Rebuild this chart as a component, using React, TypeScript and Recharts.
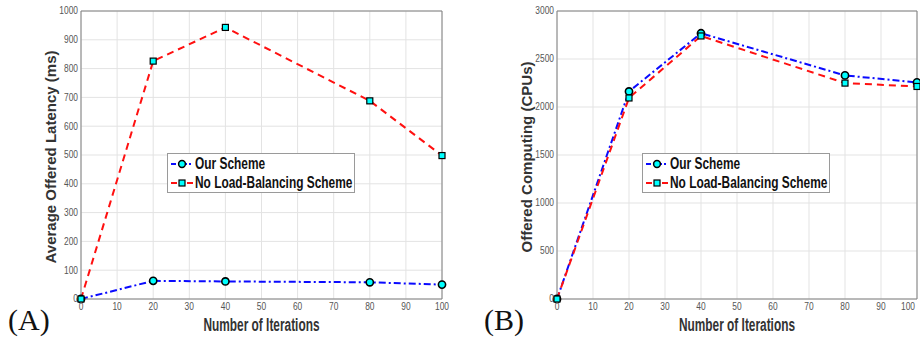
import React from 'react';
import {
  LineChart,
  Line,
  XAxis,
  YAxis,
  CartesianGrid,
  ReferenceLine,
} from 'recharts';

// iterations on the x axis
const iterations = [0, 20, 40, 80, 100];
const xTicks = [0, 10, 20, 30, 40, 50, 60, 70, 80, 90, 100];

// (A) average offered latency (ms)
const latencyOurs = [0, 63, 61, 58, 50];
const latencyNoLB = [0, 826, 943, 688, 498];
const latencyTicks = [0, 100, 200, 300, 400, 500, 600, 700, 800, 900, 1000];

// (B) offered computing (CPUs)
const computingOurs = [0, 2162, 2768, 2329, 2256];
const computingNoLB = [0, 2094, 2740, 2249, 2214];
const computingTicks = [0, 500, 1000, 1500, 2000, 2500, 3000];

const seriesNames = ['Our Scheme', 'No Load-Balancing Scheme'];

const BLUE = '#0a0aff';
const RED = '#ff1010';
const CYAN = '#00ffff';
const FRAME = '#808080';
const SANS = '"Liberation Sans", Arial, sans-serif';

const buildRows = (ours: number[], noLB: number[]) =>
  iterations.map((it, i) => ({ it, ours: ours[i], noLB: noLB[i] }));

const CircleDot = (props: any) => {
  const { cx, cy, index } = props;
  if (cx == null || cy == null) return <g key={index} />;
  return <circle key={index} cx={cx} cy={cy} r={3.6} fill={CYAN} stroke="#000" strokeWidth={1.6} />;
};

const SquareDot = (props: any) => {
  const { cx, cy, index } = props;
  if (cx == null || cy == null) return <g key={index} />;
  return (
    <rect key={index} x={cx - 3} y={cy - 3} width={6} height={6} fill={CYAN} stroke="#000" strokeWidth={1.2} />
  );
};

// squeezed tick text, the original uses a narrow face
const NarrowTick = (props: any) => {
  const { x, y, payload, textAnchor, orientation } = props;
  const dy = orientation === 'bottom' ? 9 : 3.5;
  return (
    <text
      x={x}
      y={y + dy}
      textAnchor={textAnchor}
      fontFamily={SANS}
      fontSize={10.5}
      fill="#555"
      transform={`translate(${x},0) scale(0.8,1) translate(${-x},0)`}
    >
      {payload.value}
    </text>
  );
};

const legendText: React.CSSProperties = {
  display: 'inline-block',
  transform: 'scaleX(0.7)',
  transformOrigin: 'left center',
};

const LegendBox = ({ left }: { left: number }) => (
  <div
    style={{
      position: 'absolute',
      left,
      top: 153,
      width: 186,
      height: 38,
      background: '#fff',
      border: '1px solid #9a9a9a',
      fontFamily: SANS,
      fontWeight: 'bold',
      fontSize: 17,
      color: '#111',
      lineHeight: '19px',
      whiteSpace: 'nowrap',
    }}
  >
    <div style={{ display: 'flex', alignItems: 'center', paddingLeft: 2 }}>
      <svg width={24} height={12} style={{ marginRight: 1, flex: 'none' }}>
        <line x1={1} y1={6} x2={23} y2={6} stroke={BLUE} strokeWidth={2} strokeDasharray="5 2 2 2" />
        <circle cx={12} cy={6} r={3.4} fill={CYAN} stroke="#000" strokeWidth={1.5} />
      </svg>
      <span style={legendText}>{seriesNames[0]}</span>
    </div>
    <div style={{ display: 'flex', alignItems: 'center', paddingLeft: 2 }}>
      <svg width={24} height={12} style={{ marginRight: 1, flex: 'none' }}>
        <line x1={1} y1={6} x2={23} y2={6} stroke={RED} strokeWidth={2} strokeDasharray="6 10" />
        <rect x={9} y={3} width={6} height={6} fill={CYAN} stroke="#000" strokeWidth={1.2} />
      </svg>
      <span style={legendText}>{seriesNames[1]}</span>
    </div>
  </div>
);

interface PanelProps {
  rows: { it: number; ours: number; noLB: number }[];
  yTicks: number[];
  yMax: number;
  yLabel: string;
  yLabelLength: number;
  yAxisWidth: number;
  marginRight: number;
}

function Panel({ rows, yTicks, yMax, yLabel, yLabelLength, yAxisWidth, marginRight }: PanelProps) {
  return (
    <LineChart
      width={460}
      height={341}
      data={rows}
      margin={{ top: 11, right: marginRight, bottom: 0, left: 0 }}
    >
      <CartesianGrid stroke="#e3e3e3" strokeWidth={1} />
      <XAxis
        dataKey="it"
        type="number"
        domain={[0, 100]}
        ticks={xTicks}
        height={42}
        tickLine={false}
        tickSize={0}
        tickMargin={2}
        axisLine={{ stroke: FRAME }}
        tick={<NarrowTick />}
        label={{
          content: ({ viewBox }: any) => (
            <text
              x={viewBox.x + viewBox.width / 2}
              y={viewBox.y + 32}
              textAnchor="middle"
              fontFamily={SANS}
              fontWeight="bold"
              fontSize={17.5}
              fill="#333"
              textLength={116}
              lengthAdjust="spacingAndGlyphs"
            >
              Number of Iterations
            </text>
          ),
        }}
      />
      <YAxis
        type="number"
        domain={[0, yMax]}
        ticks={yTicks}
        width={yAxisWidth}
        tickLine={false}
        tickSize={0}
        tickMargin={3}
        axisLine={{ stroke: FRAME }}
        tick={<NarrowTick />}
        label={{
          content: ({ viewBox }: any) => {
            const cx = yAxisWidth - 25;
            const cy = viewBox.y + viewBox.height / 2 + 2;
            return (
              <text
                x={cx}
                y={cy}
                transform={`rotate(-90, ${cx}, ${cy})`}
                textAnchor="middle"
                fontFamily={SANS}
                fontWeight="bold"
                fontSize={15}
                fill="#333"
                textLength={yLabelLength}
                lengthAdjust="spacingAndGlyphs"
              >
                {yLabel}
              </text>
            );
          },
        }}
      />
      <ReferenceLine y={yMax} stroke={FRAME} strokeWidth={1} />
      <ReferenceLine x={100} stroke={FRAME} strokeWidth={1} />
      <Line
        dataKey="ours"
        name={seriesNames[0]}
        stroke={BLUE}
        strokeWidth={2}
        strokeDasharray="7 3 2 3"
        dot={CircleDot}
        isAnimationActive={false}
      />
      <Line
        dataKey="noLB"
        name={seriesNames[1]}
        stroke={RED}
        strokeWidth={2}
        strokeDasharray="7 5"
        dot={SquareDot}
        isAnimationActive={false}
      />
    </LineChart>
  );
}

export default function App() {
  return (
    <div style={{ position: 'absolute', left: 0, top: 0, width: 920, height: 341, overflow: 'hidden', background: '#fff' }}>
      <div style={{ position: 'absolute', left: 0, top: 0 }}>
        <Panel
          rows={buildRows(latencyOurs, latencyNoLB)}
          yTicks={latencyTicks}
          yMax={1000}
          yLabel="Average Offered Latency (ms)"
          yLabelLength={213}
          yAxisWidth={81}
          marginRight={18}
        />
      </div>
      <div style={{ position: 'absolute', left: 460, top: 0 }}>
        <Panel
          rows={buildRows(computingOurs, computingNoLB)}
          yTicks={computingTicks}
          yMax={3000}
          yLabel="Offered Computing (CPUs)"
          yLabelLength={191}
          yAxisWidth={97}
          marginRight={3}
        />
      </div>
      <LegendBox left={167} />
      <LegendBox left={642} />
      <div style={{ position: 'absolute', left: 8, top: 303, fontFamily: '"Liberation Serif", serif', fontSize: 30, color: '#111' }}>
        (A)
      </div>
      <div style={{ position: 'absolute', left: 484, top: 303, fontFamily: '"Liberation Serif", serif', fontSize: 30, color: '#111' }}>
        (B)
      </div>
    </div>
  );
}
